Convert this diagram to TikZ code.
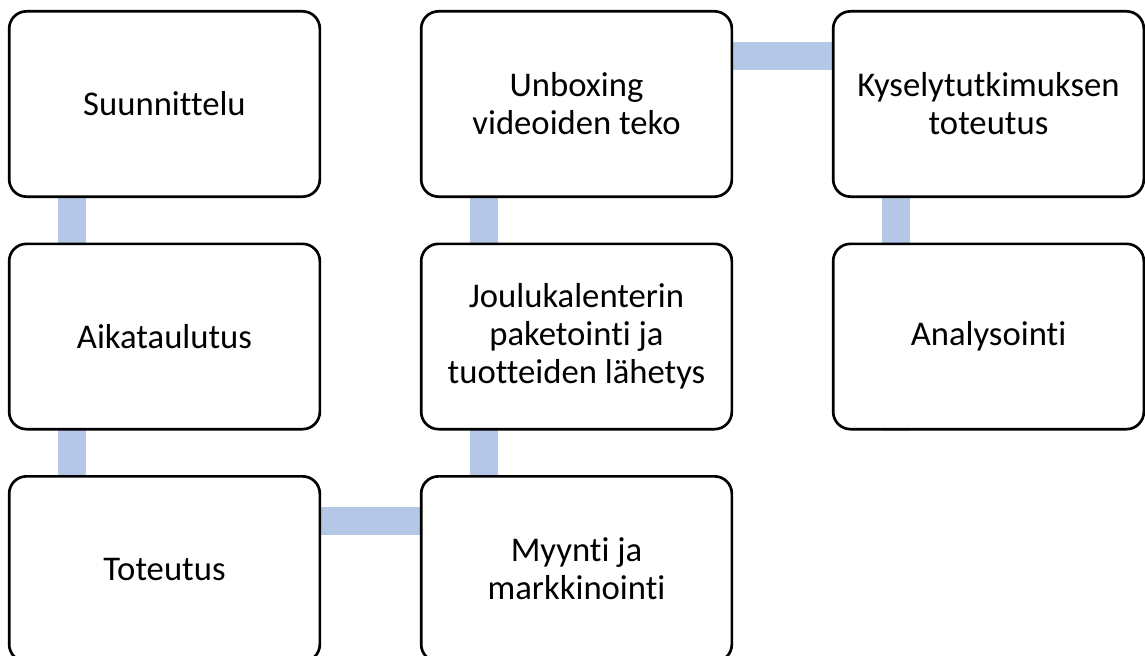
\documentclass[tikz,border=0pt]{standalone}
\usepackage{fontspec}
\setmainfont{Carlito}[Ligatures=CommonOff]
\usepackage{tikz}
\usetikzlibrary{positioning,backgrounds}
\definecolor{barblue}{RGB}{180,199,231}

\begin{document}
\begin{tikzpicture}[x=0.75pt, y=-0.75pt,
  phase/.style={draw=black, line width=2pt, fill=white, rounded corners=13pt,
    minimum width=233pt, minimum height=139pt, align=center,
    font=\fontsize{26}{28.5}\selectfont},
  link/.style={draw=barblue, line width=21pt}]
\clip (0,0) rectangle (1145,656);
\node[phase] (suun) at (164.5,104) {Suunnittelu};
\node[phase] (aika) at (164.5,336.5) {Aikataulutus};
\node[phase] (tote) at (164.5,569) {Toteutus};
\node[phase] (myyn) at (576.5,569) {Myynti ja\\markkinointi};
\node[phase] (joul) at (576.5,336.5) {Joulukalenterin\\paketointi ja\\tuotteiden lähetys};
\node[phase] (unbo) at (576.5,104) {Unboxing\\videoiden teko};
\node[phase] (kyse) at (988.5,104) {Kyselytutkimuksen\\toteutus};
\node[phase] (anal) at (988.5,336.5) {Analysointi};
% connectors behind the boxes
\begin{scope}[on background layer]
\draw[link] ([xshift=48pt]suun.north west) -- ([xshift=48pt]aika.south west);
\draw[link] ([xshift=48pt]aika.north west) -- ([xshift=48pt]tote.south west);
\draw[link] ([yshift=-34.5pt]tote.north west) -- ([yshift=-34.5pt]myyn.north east);
\draw[link] ([xshift=48pt]myyn.south west) -- ([xshift=48pt]joul.north west);
\draw[link] ([xshift=48pt]joul.south west) -- ([xshift=48pt]unbo.north west);
\draw[link] ([yshift=-34.5pt]unbo.north west) -- ([yshift=-34.5pt]kyse.north east);
\draw[link] ([xshift=48pt]kyse.north west) -- ([xshift=48pt]anal.south west);
\end{scope}
\end{tikzpicture}
\end{document}
